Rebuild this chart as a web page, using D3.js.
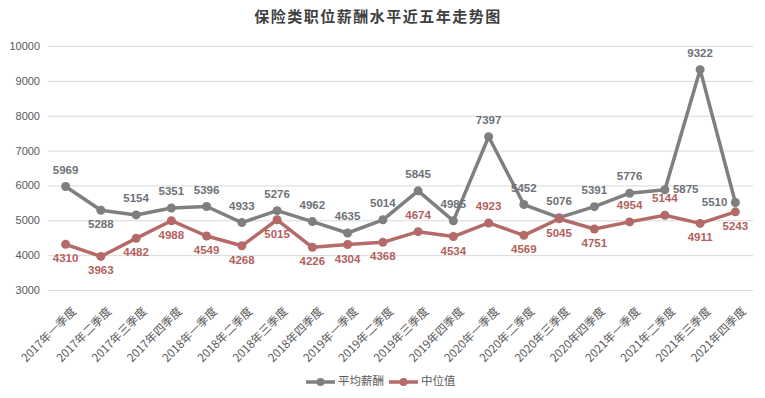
<!DOCTYPE html>
<html>
<head>
<meta charset="utf-8">
<script src="https://cdn.jsdelivr.net/npm/d3@7"></script>
<style>
  body { margin: 0; background: #fff; }
  svg { display: block; }
</style>
</head>
<body>
<svg id="chart" width="765" height="398"></svg>
<script>
const title = '保险类职位薪酬水平近五年走势图';

const quarters = [
  '2017年一季度', '2017年二季度', '2017年三季度', '2017年四季度',
  '2018年一季度', '2018年二季度', '2018年三季度', '2018年四季度',
  '2019年一季度', '2019年二季度', '2019年三季度', '2019年四季度',
  '2020年一季度', '2020年二季度', '2020年三季度', '2020年四季度',
  '2021年一季度', '2021年二季度', '2021年三季度', '2021年四季度'
];

const avgPay = [5969, 5288, 5154, 5351, 5396, 4933, 5276, 4962, 4635, 5014,
                5845, 4985, 7397, 5452, 5076, 5391, 5776, 5875, 9322, 5510];

const medianPay = [4310, 3963, 4482, 4988, 4549, 4268, 5015, 4226, 4304, 4368,
                   4674, 4534, 4923, 4569, 5045, 4751, 4954, 5144, 4911, 5243];

const yTicks = [3000, 4000, 5000, 6000, 7000, 8000, 9000, 10000];

// where each data label sits relative to its point
const avgLabelPos = ['t', 'b', 't', 't', 't', 't', 't', 't', 't', 't',
                     't', 't', 't', 't', 't', 't', 't', 'r', 't', 'l'];
const medLabelPos = ['b', 'b', 'b', 'b', 'b', 'b', 'b', 'b', 'b', 'b',
                     't', 'b', 't', 'b', 'b', 'b', 't', 't', 'b', 'b'];

const series = [
  { name: '平均薪酬', values: avgPay, pos: avgLabelPos, color: '#7f7f7f', labelColor: '#6e7278' },
  { name: '中位值', values: medianPay, pos: medLabelPos, color: '#b56a6a', labelColor: '#b35f5e' }
];

const svg = d3.select('#chart');

const plotL = 48, plotR = 753, plotT = 46, plotB = 290;

const x = d3.scaleBand()
  .domain(quarters)
  .range([plotL, plotR]);

const y = d3.scaleLinear()
  .domain([3000, 10000])
  .range([plotB, plotT]);

const cx = q => x(q) + x.bandwidth() / 2;

// title
svg.append('text')
  .attr('x', 378)
  .attr('y', 22)
  .attr('text-anchor', 'middle')
  .attr('font-family', '"Noto Sans CJK SC", sans-serif')
  .attr('font-size', 15)
  .attr('font-weight', 'bold')
  .attr('letter-spacing', 1.5)
  .attr('fill', '#404040')
  .text(title);

// gridlines + y labels
const yAxis = svg.append('g')
  .attr('transform', 'translate(' + plotL + ',0)')
  .call(d3.axisLeft(y)
    .tickValues(yTicks)
    .tickSize(-(plotR - plotL))
    .tickPadding(8)
    .tickFormat(d => d)
  );

yAxis.select('.domain').remove();
yAxis.selectAll('.tick line').attr('stroke', '#d9d9d9').attr('stroke-width', 1);
yAxis.selectAll('.tick text')
  .attr('fill', '#595959')
  .attr('font-family', '"Liberation Sans", Arial, sans-serif')
  .attr('font-size', 11);

// x labels rotated
const xAxis = svg.append('g')
  .attr('transform', 'translate(0,' + plotB + ')')
  .call(d3.axisBottom(x).tickSize(0));

xAxis.select('.domain').remove();
xAxis.selectAll('.tick text')
  .attr('font-family', '"Noto Sans CJK SC", sans-serif')
  .attr('font-size', 11.5)
  .attr('fill', '#595959')
  .attr('text-anchor', 'end')
  .attr('dominant-baseline', 'middle')
  .attr('transform', 'translate(9,20) rotate(-45)')
  .attr('x', 0)
  .attr('y', 0)
  .attr('dy', null);

// lines, markers, labels
const line = d3.line()
  .x((d, i) => cx(quarters[i]))
  .y(d => y(d));

series.forEach(s => {
  const g = svg.append('g');

  g.append('path')
    .datum(s.values)
    .attr('d', line)
    .attr('fill', 'none')
    .attr('stroke', s.color)
    .attr('stroke-width', 3.5)
    .attr('stroke-linejoin', 'round');

  g.selectAll('circle')
    .data(s.values)
    .join('circle')
    .attr('cx', (d, i) => cx(quarters[i]))
    .attr('cy', d => y(d))
    .attr('r', 4.5)
    .attr('fill', s.color);

  g.selectAll('text')
    .data(s.values)
    .join('text')
    .attr('x', (d, i) => {
      const p = s.pos[i];
      return cx(quarters[i]) + (p === 'r' ? 8 : p === 'l' ? -8 : 0);
    })
    .attr('y', (d, i) => {
      const p = s.pos[i];
      return y(d) + (p === 't' ? -16 : p === 'b' ? 15 : 0);
    })
    .attr('text-anchor', (d, i) => s.pos[i] === 'r' ? 'start' : s.pos[i] === 'l' ? 'end' : 'middle')
    .attr('dominant-baseline', 'middle')
    .attr('font-family', '"Liberation Sans", Arial, sans-serif')
    .attr('font-size', 11.5)
    .attr('font-weight', 'bold')
    .attr('fill', s.labelColor)
    .text(d => d);
});

// legend
const legendX = [306, 389];
const legend = svg.append('g');
series.forEach((s, i) => {
  const lg = legend.append('g').attr('transform', 'translate(' + legendX[i] + ',382)');
  lg.append('line')
    .attr('x1', 0).attr('x2', 29)
    .attr('stroke', s.color)
    .attr('stroke-width', 3.5);
  lg.append('circle')
    .attr('cx', 14.5).attr('r', 4)
    .attr('fill', s.color);
  lg.append('text')
    .attr('x', 32)
    .attr('dominant-baseline', 'middle')
    .attr('font-family', '"Noto Sans CJK SC", sans-serif')
    .attr('font-size', 11.5)
    .attr('fill', '#595959')
    .text(s.name);
});
</script>
</body>
</html>
